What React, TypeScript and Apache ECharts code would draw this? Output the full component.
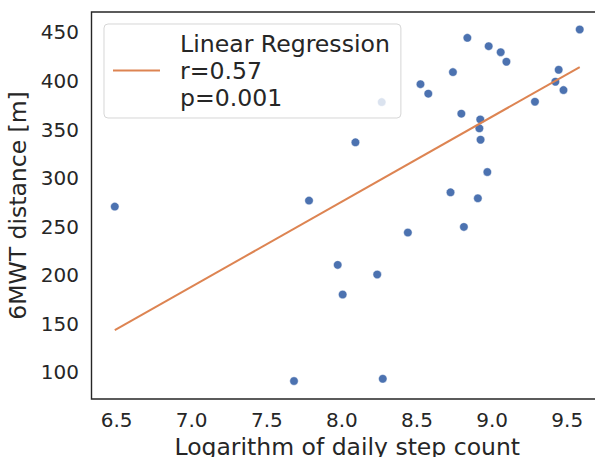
import React, { useEffect, useRef } from "react";
import * as echarts from "echarts";

// Scatter points: log of daily step count vs 6MWT distance [m]
const stepLog = [
  9.583, 8.835, 8.977, 9.057, 9.095, 8.739, 9.443, 9.421, 9.475, 8.523,
  8.575, 8.265, 9.285, 8.795, 8.921, 8.915, 8.923, 8.09, 8.968, 8.723,
  8.905, 6.488, 7.781, 8.812, 8.439, 7.972, 8.235, 8.005, 7.681, 8.272,
];
const distance = [
  453.1, 444.5, 435.9, 429.7, 419.9, 409.2, 411.6, 399.3, 390.7, 396.8,
  387.0, 378.3, 378.7, 366.4, 360.5, 351.3, 339.6, 336.9, 306.3, 285.4,
  279.3, 270.7, 276.9, 249.8, 244.0, 210.7, 200.8, 180.2, 91.1, 93.4,
];

// Regression line end points
const regX = [6.488, 9.583];
const regY = [143.5, 414.4];

const legendName = "Linear Regression";
const legendLines = ["Linear Regression", "r=0.57", "p=0.001"];

const xTitle = "Logarithm of daily step count";
const yTitle = "6MWT distance [m]";

const xRange = [6.333, 9.738];
const yRange = [72.6, 471.1];

const TEXT = "#262626";
const FONT = "DejaVu Sans";

export default function App() {
  const ref = useRef<HTMLDivElement>(null);

  useEffect(() => {
    if (!ref.current) return;
    const chart = echarts.init(ref.current, null, { renderer: "svg" });
    const points = stepLog.map((x, i) => [x, distance[i]]);
    const line = regX.map((x, i) => [x, regY[i]]);

    chart.setOption({
      animation: false,
      backgroundColor: "#ffffff",
      textStyle: { fontFamily: FONT, color: TEXT },
      grid: {
        left: 91.5,
        top: 12,
        right: -8,
        bottom: 58,
        show: true,
        borderColor: TEXT,
        borderWidth: 1.4,
        backgroundColor: "transparent",
        containLabel: false,
        outerBoundsMode: "none",
      },
      legend: {
        show: true,
        data: [{ name: legendName, icon: "rect" }],
        left: 104,
        top: 24,
        orient: "vertical",
        padding: [6, 11, 7, 9],
        itemWidth: 47,
        itemHeight: 2,
        backgroundColor: "rgba(255,255,255,0.8)",
        borderColor: "rgba(204,204,204,0.8)",
        borderWidth: 1,
        borderRadius: 4,
        z: 10,
        selectedMode: false,
        itemStyle: { borderWidth: 0 },
        formatter: () => legendLines.join("\n"),
        textStyle: {
          fontFamily: FONT,
          fontSize: 23.6,
          lineHeight: 27,
          color: TEXT,
          padding: [0, 0, 0, 15],
        },
      },
      xAxis: {
        type: "value",
        min: xRange[0],
        max: xRange[1],
        splitNumber: 7,
        name: xTitle,
        nameLocation: "middle",
        nameGap: 34,
        nameTextStyle: { fontFamily: FONT, fontSize: 23.5, color: TEXT },
        axisLine: { show: false },
        axisTick: { show: false },
        splitLine: { show: false },
        axisLabel: {
          fontFamily: FONT,
          fontSize: 20,
          color: TEXT,
          margin: 11,
          showMinLabel: false,
          showMaxLabel: false,
          formatter: (v: number) =>
            Math.abs(v * 2 - Math.round(v * 2)) < 1e-6 ? v.toFixed(1) : "",
        },
      },
      yAxis: {
        type: "value",
        min: yRange[0],
        max: yRange[1],
        splitNumber: 8,
        name: yTitle,
        nameLocation: "middle",
        nameGap: 53,
        nameTextStyle: { fontFamily: FONT, fontSize: 23.5, color: TEXT },
        axisLine: { show: false },
        axisTick: { show: false },
        splitLine: { show: false },
        axisLabel: {
          fontFamily: FONT,
          fontSize: 20,
          color: TEXT,
          margin: 12.5,
          showMinLabel: false,
          showMaxLabel: false,
          formatter: (v: number) =>
            Math.abs(v / 50 - Math.round(v / 50)) < 1e-6 ? String(Math.round(v)) : "",
        },
      },
      series: [
        {
          name: "points",
          type: "scatter",
          data: points,
          symbolSize: 8.5,
          itemStyle: { color: "#4C72B0", borderColor: "#ffffff", borderWidth: 0.5, opacity: 1 },
          z: 2,
        },
        {
          name: legendName,
          type: "line",
          data: line,
          showSymbol: false,
          symbol: "none",
          lineStyle: { color: "#DD8452", width: 2 },
          itemStyle: { color: "#DD8452" },
          z: 3,
        },
      ],
    });

    return () => chart.dispose();
  }, []);

  return (
    <div
      ref={ref}
      style={{ position: "fixed", left: 0, top: 0, width: 595, height: 457 }}
    />
  );
}
